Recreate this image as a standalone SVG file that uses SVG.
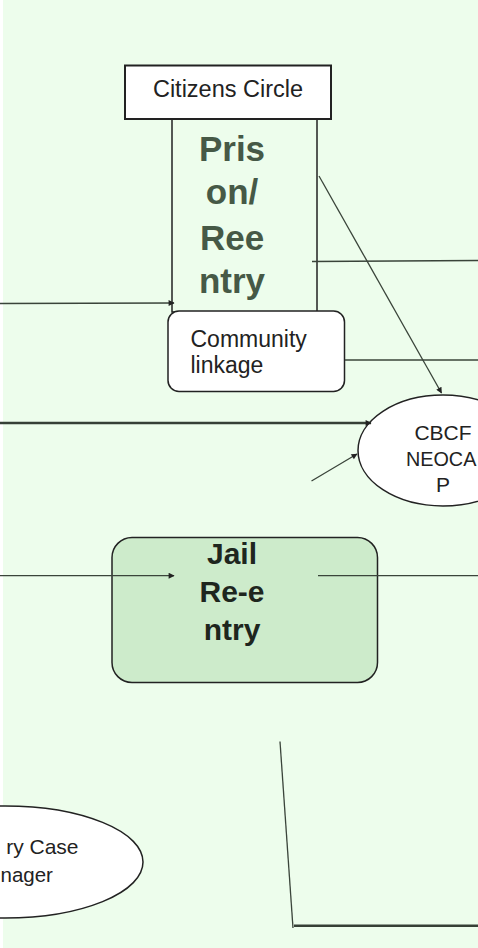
<svg xmlns="http://www.w3.org/2000/svg" width="478" height="948" viewBox="0 0 478 948">
<style>
.t{font-family:"Liberation Sans",Arial,sans-serif;}
.shape{stroke:#222;stroke-width:1.5;}
.ln{stroke:#3a443a;stroke-width:1.3;fill:none;}
.thick{stroke:#364036;stroke-width:2.5;fill:none;}
.pr{font-size:35px;font-weight:bold;fill:#465946;text-anchor:middle;}
.jl{font-size:30px;font-weight:bold;fill:#1e261e;text-anchor:middle;}
.nm{font-size:21px;fill:#222;}
</style>
<defs>
<marker id="ah" viewBox="0 0 10 10" refX="9" refY="5" markerWidth="9" markerHeight="6" markerUnits="userSpaceOnUse" orient="auto">
<path d="M0,0 L10,5 L0,10 z" fill="#222"/>
</marker>
</defs>
<rect x="0" y="0" width="478" height="948" fill="#ffffff"/>
<rect x="3" y="0" width="475" height="948" fill="#EDFDEC"/>

<g id="prison">
<rect x="172" y="119" width="145" height="193" fill="#EDFDEC" class="shape"/>
<text class="t pr" x="232" y="161">Pris</text>
<text class="t pr" x="232" y="204">on/</text>
<text class="t pr" x="232" y="250">Ree</text>
<text class="t pr" x="232" y="293">ntry</text>
</g>

<g id="citizens">
<rect x="125" y="65.5" width="206" height="53.5" fill="#ffffff" stroke="#222" stroke-width="2"/>
<text class="t" x="228" y="97" text-anchor="middle" font-size="23.5" fill="#222">Citizens Circle</text>
</g>

<g id="community">
<rect x="168" y="311" width="176.5" height="80.5" rx="11" fill="#ffffff" class="shape"/>
<text class="t" x="190.5" y="347" font-size="23" fill="#222">Community</text>
<text class="t" x="190.5" y="373" font-size="23" fill="#222">linkage</text>
</g>

<g id="cbcf">
<ellipse cx="443" cy="450.5" rx="85" ry="55.5" fill="#ffffff" class="shape"/>
<text class="t nm" x="443" y="440" text-anchor="middle">CBCF</text>
<text class="t" x="406" y="466" font-size="19.8" fill="#222">NEOCA</text>
<text class="t nm" x="443" y="492" text-anchor="middle">P</text>
</g>

<g id="jail">
<rect x="112" y="537.5" width="265.5" height="145" rx="20" fill="#CDEBCB" class="shape"/>
<text class="t jl" x="232" y="563.5">Jail</text>
<text class="t jl" x="232" y="602">Re-e</text>
<text class="t jl" x="232" y="640">ntry</text>
</g>

<g id="casemanager">
<ellipse cx="5" cy="862" rx="138" ry="56" fill="#ffffff" class="shape"/>
<text class="t nm" x="78.5" y="854" text-anchor="end">ry Case</text>
<text class="t" x="0.5" y="882" font-size="20.5" fill="#222">nager</text>
</g>

<g id="connectors">
<line class="ln" x1="0" y1="303.5" x2="174" y2="303" marker-end="url(#ah)"/>
<line class="ln" x1="312" y1="261.5" x2="478" y2="260.5"/>
<line class="ln" x1="345" y1="360" x2="478" y2="360"/>
<line class="ln" x1="319" y1="176" x2="441.5" y2="393" marker-end="url(#ah)"/>
<line class="thick" x1="0" y1="423" x2="371" y2="423" marker-end="url(#ah)"/>
<line class="ln" x1="311.5" y1="481" x2="357" y2="454" marker-end="url(#ah)"/>
<line class="ln" x1="0" y1="575.7" x2="174" y2="575.7" marker-end="url(#ah)"/>
<line class="ln" x1="318" y1="575.7" x2="478" y2="575.7"/>
<line class="ln" x1="280" y1="741.5" x2="293" y2="928"/>
<line class="thick" x1="294" y1="925.7" x2="478" y2="925.7"/>
</g>
</svg>
